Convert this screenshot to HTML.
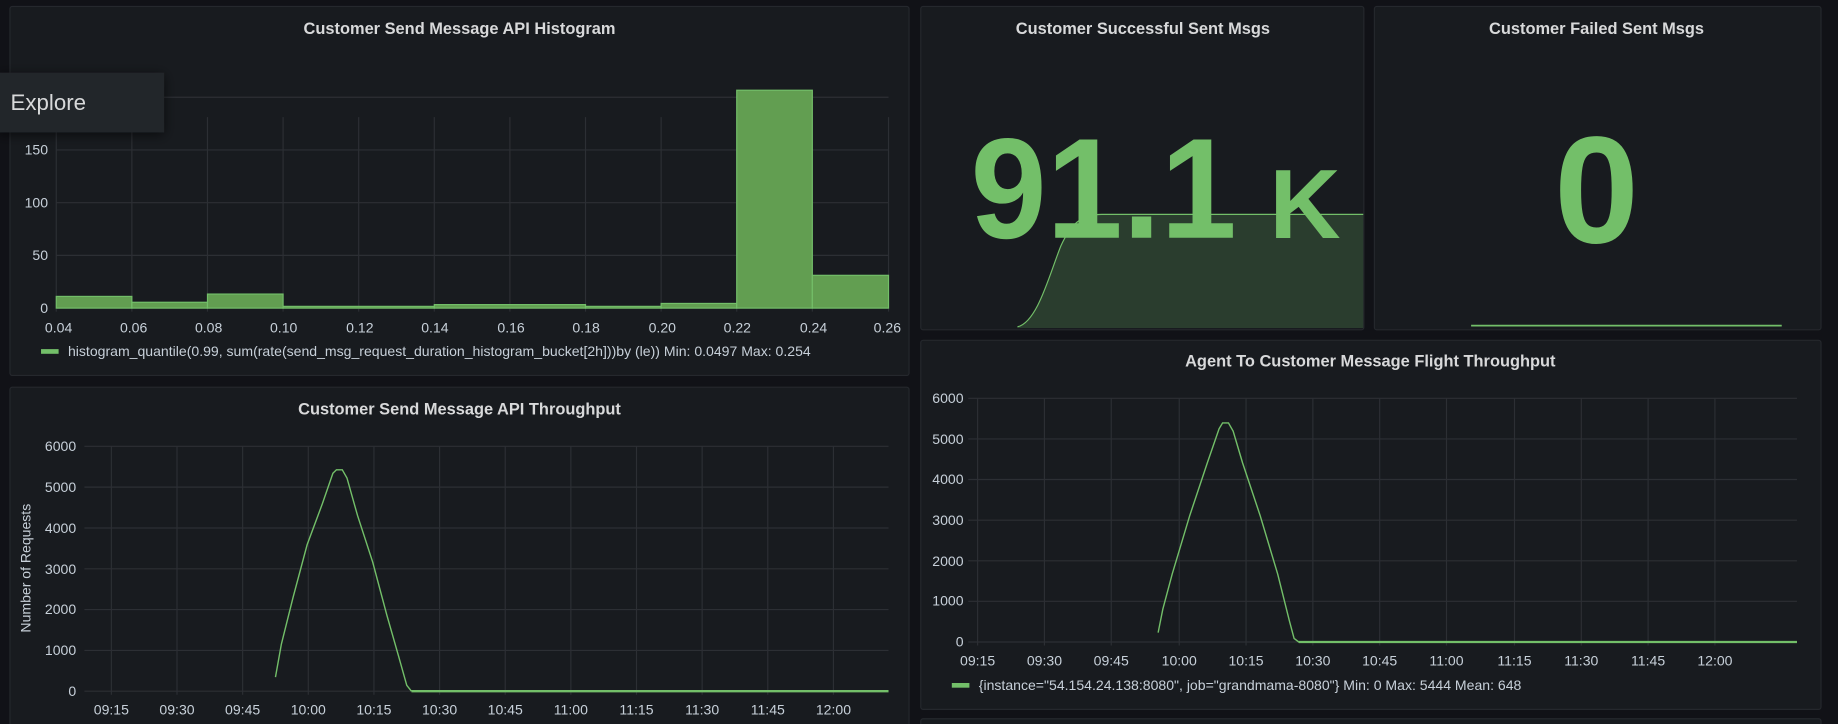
<!DOCTYPE html>
<html><head><meta charset="utf-8"><style>
html,body{margin:0;padding:0;background:#111217;overflow:hidden}
svg{display:block}
text{font-family:"Liberation Sans",sans-serif}
</style></head><body>
<svg width="1838" height="724" viewBox="0 0 1568 618" preserveAspectRatio="none" xmlns="http://www.w3.org/2000/svg">
<defs><filter id="sh" x="-20%" y="-30%" width="150%" height="180%"><feDropShadow dx="0" dy="2" stdDeviation="5" flood-color="#000" flood-opacity="0.6"/></filter></defs>
<rect width="1568" height="618" fill="#111217"/>
<g fill="#181b1f" stroke="#25282d" stroke-width="1">
<rect x="8.5" y="5.5" width="767" height="315" rx="2"/>
<rect x="785.5" y="5.5" width="378" height="276" rx="2"/>
<rect x="1172.5" y="5.5" width="381" height="276" rx="2"/>
<rect x="785.5" y="290.5" width="768" height="315" rx="2"/>
<rect x="8.5" y="330.5" width="767" height="300" rx="2"/>
<rect x="785.5" y="613.5" width="768" height="20" rx="2"/>
</g>
<g fill="#d8d9da" font-size="14" font-weight="bold" text-anchor="middle">
<text x="392" y="29">Customer Send Message API Histogram</text>
<text x="975" y="29">Customer Successful Sent Msgs</text>
<text x="1362" y="29">Customer Failed Sent Msgs</text>
<text x="1169" y="313">Agent To Customer Message Flight Throughput</text>
<text x="392" y="354">Customer Send Message API Throughput</text>
</g>
<g stroke="#2c2f34" stroke-width="1">
<line x1="48" y1="263" x2="758" y2="263"/><line x1="48" y1="218" x2="758" y2="218"/>
<line x1="48" y1="173" x2="758" y2="173"/><line x1="48" y1="128" x2="758" y2="128"/>
<line x1="48" y1="83" x2="758" y2="83"/>
<line x1="48" y1="100" x2="48" y2="266"/><line x1="112.5" y1="100" x2="112.5" y2="266"/>
<line x1="177" y1="100" x2="177" y2="266"/><line x1="241.5" y1="100" x2="241.5" y2="266"/>
<line x1="306" y1="100" x2="306" y2="266"/><line x1="370.5" y1="100" x2="370.5" y2="266"/>
<line x1="435" y1="100" x2="435" y2="266"/><line x1="499.5" y1="100" x2="499.5" y2="266"/>
<line x1="564" y1="100" x2="564" y2="266"/><line x1="628.5" y1="100" x2="628.5" y2="266"/>
<line x1="693" y1="100" x2="693" y2="266"/><line x1="758" y1="100" x2="758" y2="266"/>
</g>
<g fill="#629e51" stroke="#73bf69" stroke-width="1">
<rect x="48" y="253" width="64.5" height="10"/>
<rect x="112.5" y="258" width="64.5" height="5"/>
<rect x="177" y="251" width="64.5" height="12"/>
<rect x="241.5" y="261.5" width="129" height="1.5"/>
<rect x="370.5" y="260" width="129" height="3"/>
<rect x="499.5" y="261.5" width="64.5" height="1.5"/>
<rect x="564" y="259" width="64.5" height="4"/>
<rect x="628.5" y="77" width="64.5" height="186"/>
<rect x="693" y="235" width="65" height="28"/>
</g>
<g fill="#c7d0d9" font-size="12">
<g text-anchor="end"><text x="41" y="267">0</text><text x="41" y="222">50</text><text x="41" y="177">100</text><text x="41" y="132">150</text></g>
<g text-anchor="middle"><text x="50" y="284">0.04</text><text x="114" y="284">0.06</text><text x="178" y="284">0.08</text><text x="242" y="284">0.10</text><text x="307" y="284">0.12</text><text x="371" y="284">0.14</text><text x="436" y="284">0.16</text><text x="500" y="284">0.18</text><text x="565" y="284">0.20</text><text x="629" y="284">0.22</text><text x="694" y="284">0.24</text><text x="757" y="284">0.26</text></g>
<rect x="35" y="298" width="15" height="4" fill="#73bf69"/>
<text x="58" y="304">histogram_quantile(0.99, sum(rate(send_msg_request_duration_histogram_bucket[2h]))by (le))   Min: 0.0497   Max: 0.254</text>
</g>
<rect x="-2" y="62" width="142" height="51" fill="#22252b" filter="url(#sh)"/>
<text x="9" y="94" fill="#d8d9da" font-size="19">Explore</text>
<path d="M868,279 C885,275 895,235 905,210 C915,188 925,183 940,183 L1163,183 L1163,280 L868,280 Z" fill="#2a3d2e"/>
<path d="M868,279 C885,275 895,235 905,210 C915,188 925,183 940,183 L1163,183" fill="none" stroke="#73bf69" stroke-width="1"/>
<text x="828" y="203" fill="#73bf69" font-size="122" font-weight="bold" textLength="227" lengthAdjust="spacingAndGlyphs">91.1</text>
<text x="1083" y="203" fill="#73bf69" font-size="84" font-weight="bold">K</text>
<text x="1362" y="207" fill="#73bf69" font-size="130" font-weight="bold" text-anchor="middle">0</text>
<line x1="1255" y1="278" x2="1520" y2="278" stroke="#73bf69" stroke-width="1.5"/>
<g stroke="#2c2f34" stroke-width="1">
<line x1="826" y1="548" x2="1533" y2="548"/><line x1="826" y1="513.3" x2="1533" y2="513.3"/>
<line x1="826" y1="478.7" x2="1533" y2="478.7"/><line x1="826" y1="444" x2="1533" y2="444"/>
<line x1="826" y1="409.3" x2="1533" y2="409.3"/><line x1="826" y1="374.7" x2="1533" y2="374.7"/>
<line x1="826" y1="340" x2="1533" y2="340"/>
<line x1="834" y1="340" x2="834" y2="551"/><line x1="891" y1="340" x2="891" y2="551"/><line x1="948" y1="340" x2="948" y2="551"/><line x1="1006" y1="340" x2="1006" y2="551"/><line x1="1063" y1="340" x2="1063" y2="551"/><line x1="1120" y1="340" x2="1120" y2="551"/><line x1="1177" y1="340" x2="1177" y2="551"/><line x1="1234" y1="340" x2="1234" y2="551"/><line x1="1292" y1="340" x2="1292" y2="551"/><line x1="1349" y1="340" x2="1349" y2="551"/><line x1="1406" y1="340" x2="1406" y2="551"/><line x1="1463" y1="340" x2="1463" y2="551"/>
</g>
<polyline points="988,540 992,520 1000,490 1015,440 1030,395 1040,366 1043,361 1048,361 1052,368 1060,395 1075,440 1090,490 1100,530 1104,545 1108,548 1533,548" fill="none" stroke="#73bf69" stroke-width="1.2"/>
<line x1="1108" y1="548" x2="1533" y2="548" stroke="#73bf69" stroke-width="2"/>
<g fill="#c7d0d9" font-size="12">
<g text-anchor="end"><text x="822" y="552">0</text><text x="822" y="517">1000</text><text x="822" y="483">2000</text><text x="822" y="448">3000</text><text x="822" y="413">4000</text><text x="822" y="379">5000</text><text x="822" y="344">6000</text></g>
<g text-anchor="middle"><text x="834" y="568">09:15</text><text x="891" y="568">09:30</text><text x="948" y="568">09:45</text><text x="1006" y="568">10:00</text><text x="1063" y="568">10:15</text><text x="1120" y="568">10:30</text><text x="1177" y="568">10:45</text><text x="1234" y="568">11:00</text><text x="1292" y="568">11:15</text><text x="1349" y="568">11:30</text><text x="1406" y="568">11:45</text><text x="1463" y="568">12:00</text></g>
<rect x="812" y="583" width="15" height="4" fill="#73bf69"/>
<text x="835" y="589">{instance="54.154.24.138:8080", job="grandmama-8080"}   Min: 0   Max: 5444   Mean: 648</text>
</g>
<g stroke="#2c2f34" stroke-width="1">
<line x1="72" y1="590" x2="758" y2="590"/><line x1="72" y1="555.2" x2="758" y2="555.2"/>
<line x1="72" y1="520.3" x2="758" y2="520.3"/><line x1="72" y1="485.5" x2="758" y2="485.5"/>
<line x1="72" y1="450.7" x2="758" y2="450.7"/><line x1="72" y1="415.8" x2="758" y2="415.8"/>
<line x1="72" y1="381" x2="758" y2="381"/>
<line x1="95" y1="381" x2="95" y2="593"/><line x1="151" y1="381" x2="151" y2="593"/><line x1="207" y1="381" x2="207" y2="593"/><line x1="263" y1="381" x2="263" y2="593"/><line x1="319" y1="381" x2="319" y2="593"/><line x1="375" y1="381" x2="375" y2="593"/><line x1="431" y1="381" x2="431" y2="593"/><line x1="487" y1="381" x2="487" y2="593"/><line x1="543" y1="381" x2="543" y2="593"/><line x1="599" y1="381" x2="599" y2="593"/><line x1="655" y1="381" x2="655" y2="593"/><line x1="711" y1="381" x2="711" y2="593"/>
</g>
<polyline points="235,578 240,550 250,510 262,465 275,430 284,404 287,401 292,401 296,408 305,440 318,480 330,525 340,560 347,585 351,590" fill="none" stroke="#73bf69" stroke-width="1.2"/>
<line x1="351" y1="590" x2="758" y2="590" stroke="#73bf69" stroke-width="2"/>
<g fill="#c7d0d9" font-size="12">
<g text-anchor="end"><text x="65" y="594">0</text><text x="65" y="559">1000</text><text x="65" y="524">2000</text><text x="65" y="490">3000</text><text x="65" y="455">4000</text><text x="65" y="420">5000</text><text x="65" y="385">6000</text></g>
<g text-anchor="middle"><text x="95" y="610">09:15</text><text x="151" y="610">09:30</text><text x="207" y="610">09:45</text><text x="263" y="610">10:00</text><text x="319" y="610">10:15</text><text x="375" y="610">10:30</text><text x="431" y="610">10:45</text><text x="487" y="610">11:00</text><text x="543" y="610">11:15</text><text x="599" y="610">11:30</text><text x="655" y="610">11:45</text><text x="711" y="610">12:00</text></g>
<text x="26" y="485" transform="rotate(-90 26 485)" text-anchor="middle">Number of Requests</text>
</g>
</svg>
</body></html>
